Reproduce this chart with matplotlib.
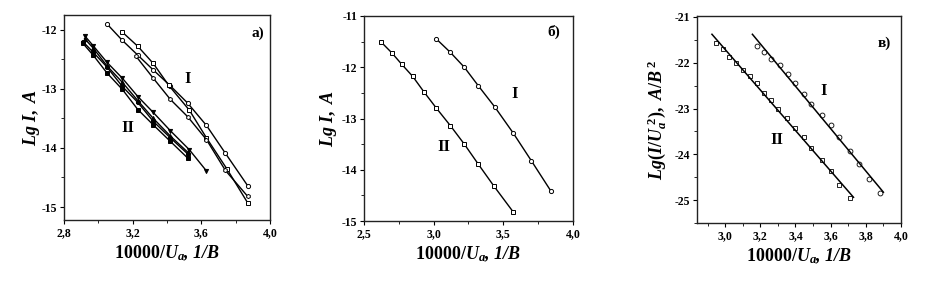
import numpy as np
import matplotlib
matplotlib.use('Agg')
import matplotlib.pyplot as plt
from matplotlib.ticker import MultipleLocator, FuncFormatter

plt.rcParams['font.family'] = ['Liberation Serif', 'DejaVu Serif']
plt.rcParams['mathtext.fontset'] = 'custom'
plt.rcParams['mathtext.it'] = 'Liberation Serif:italic:bold'
plt.rcParams['mathtext.rm'] = 'Liberation Serif:bold'
plt.rcParams['mathtext.bf'] = 'Liberation Serif:bold'
plt.rcParams['axes.unicode_minus'] = False

# panel a) - group I (open markers)
a1_x = [3.05, 3.14, 3.23, 3.32, 3.42, 3.52, 3.63, 3.74, 3.87]
a1_y = [-11.90, -12.18, -12.43, -12.68, -12.95, -13.24, -13.62, -14.09, -14.64]
a2_x = [3.14, 3.23, 3.32, 3.41, 3.53, 3.63, 3.75, 3.87]
a2_y = [-12.04, -12.28, -12.57, -12.94, -13.36, -13.83, -14.36, -14.93]
a3_x = [3.22, 3.32, 3.42, 3.52, 3.63, 3.74, 3.87]
a3_y = [-12.45, -12.82, -13.18, -13.47, -13.86, -14.38, -14.82]
# panel a) - group II (filled markers)
b1_x = [2.92, 2.97, 3.05, 3.14, 3.23, 3.32, 3.42, 3.53, 3.63]
b1_y = [-12.10, -12.27, -12.55, -12.82, -13.13, -13.40, -13.71, -14.03, -14.39]
b2_x = [2.91, 2.97, 3.05, 3.14, 3.23, 3.32, 3.42, 3.52]
b2_y = [-12.20, -12.38, -12.63, -12.96, -13.23, -13.55, -13.83, -14.10]
b3_x = [2.91, 2.97, 3.05, 3.14, 3.23, 3.32, 3.42, 3.52]
b3_y = [-12.23, -12.43, -12.73, -13.01, -13.35, -13.61, -13.89, -14.17]
b4_x = [2.92, 2.97, 3.05, 3.14, 3.23, 3.32, 3.42, 3.52]
b4_y = [-12.15, -12.31, -12.61, -12.89, -13.20, -13.50, -13.80, -14.07]

# panel б)
c1_x = [3.02, 3.12, 3.22, 3.32, 3.44, 3.57, 3.70, 3.84]
c1_y = [-11.45, -11.71, -12.00, -12.36, -12.78, -13.28, -13.82, -14.41]
c2_x = [2.62, 2.70, 2.77, 2.85, 2.93, 3.02, 3.12, 3.22, 3.32, 3.43, 3.57]
c2_y = [-11.50, -11.72, -11.94, -12.18, -12.48, -12.80, -13.14, -13.50, -13.89, -14.31, -14.82]

# panel в)
d1_x = [3.18, 3.22, 3.26, 3.31, 3.36, 3.40, 3.45, 3.49, 3.55, 3.60, 3.65, 3.71, 3.76, 3.82, 3.88]
d1_y = [-21.63, -21.76, -21.92, -22.06, -22.25, -22.45, -22.68, -22.90, -23.14, -23.36,
        -23.62, -23.93, -24.22, -24.53, -24.84]
d2_x = [2.95, 2.99, 3.02, 3.06, 3.10, 3.14, 3.18, 3.22, 3.26, 3.30, 3.35, 3.40, 3.45,
        3.49, 3.55, 3.60, 3.65, 3.71]
d2_y = [-21.56, -21.70, -21.87, -22.00, -22.16, -22.29, -22.45, -22.67, -22.81, -23.00,
        -23.21, -23.43, -23.63, -23.87, -24.13, -24.37, -24.66, -24.95]

W, H = 940, 284
fig = plt.figure(figsize=(W / 100, H / 100), dpi=100)

comma = FuncFormatter(lambda v, p: ('%.1f' % v).replace('.', ','))
xlab = r'$10000/U_a$' + ', 1/В'


def style(ax, xmaj, ymaj):
    ax.xaxis.set_major_locator(MultipleLocator(xmaj))
    ax.xaxis.set_minor_locator(MultipleLocator(xmaj / 2))
    ax.yaxis.set_major_locator(MultipleLocator(ymaj))
    ax.yaxis.set_minor_locator(MultipleLocator(ymaj / 2))
    ax.xaxis.set_major_formatter(comma)
    ax.tick_params(which='major', length=3, width=0.8, direction='out', pad=2)
    ax.tick_params(which='minor', length=2, width=0.6, direction='out')
    ax.tick_params(top=False, right=False)
    for lb in ax.get_xticklabels() + ax.get_yticklabels():
        lb.set_fontsize(8.5)
        lb.set_fontweight('bold')
    for s in ax.spines.values():
        s.set_linewidth(1.0)
        s.set_color('#222222')
    ax.set_xlabel(xlab, fontsize=13, fontweight='bold', fontstyle='italic', labelpad=3)


mk = dict(markersize=3, linewidth=1.0, color='black', markeredgewidth=0.7)

# ---- a)
ax1 = fig.add_axes([64 / W, 1 - 220 / H, 206 / W, 205 / H])
ax1.plot(a1_x, a1_y, marker='o', mfc='white', **mk)
ax1.plot(a2_x, a2_y, marker='s', mfc='white', **mk)
ax1.plot(a3_x, a3_y, marker='h', mfc='white', **mk)
ax1.plot(b1_x, b1_y, marker='v', mfc='black', **mk)
ax1.plot(b2_x, b2_y, marker='o', mfc='black', **mk)
ax1.plot(b3_x, b3_y, marker='s', mfc='black', **mk)
ax1.plot(b4_x, b4_y, marker='^', mfc='black', **mk)
ax1.set_xlim(2.8, 4.0)
ax1.set_ylim(-15.22, -11.75)
style(ax1, 0.4, 1)
ax1.set_ylabel(r'$Lg\ I,\ A$', fontsize=13, labelpad=0)
ax1.text(0.94, 0.91, 'a)', transform=ax1.transAxes, fontsize=11, fontweight='bold', ha='center', va='center')
ax1.text(0.60, 0.69, 'I', transform=ax1.transAxes, fontsize=12, fontweight='bold', ha='center', va='center')
ax1.text(0.31, 0.45, 'II', transform=ax1.transAxes, fontsize=12, fontweight='bold', ha='center', va='center')

# ---- б)
ax2 = fig.add_axes([364 / W, 1 - 221 / H, 209 / W, 205 / H])
ax2.plot(c1_x, c1_y, marker='o', mfc='white', **mk)
ax2.plot(c2_x, c2_y, marker='s', mfc='white', **mk)
ax2.set_xlim(2.5, 4.0)
ax2.set_ylim(-15, -11)
style(ax2, 0.5, 1)
ax2.set_ylabel(r'$Lg\ I,\ A$', fontsize=13, labelpad=2)
ax2.text(0.91, 0.92, 'б)', transform=ax2.transAxes, fontsize=11, fontweight='bold', ha='center', va='center')
ax2.text(0.72, 0.62, 'I', transform=ax2.transAxes, fontsize=12, fontweight='bold', ha='center', va='center')
ax2.text(0.38, 0.36, 'II', transform=ax2.transAxes, fontsize=12, fontweight='bold', ha='center', va='center')

# ---- в)
ax3 = fig.add_axes([697 / W, 1 - 223 / H, 204 / W, 207 / H])
for xs, ys, m in [(d1_x, d1_y, 'o'), (d2_x, d2_y, 's')]:
    ax3.plot(xs, ys, linestyle='none', marker=m, mfc='white', mec='black',
             markersize=3.5, markeredgewidth=0.6)
    k, b = np.polyfit(xs, ys, 1)
    xf = np.array([xs[0] - 0.025, xs[-1] + 0.02])
    ax3.plot(xf, k * xf + b, color='black', linewidth=1.1)
ax3.set_xlim(2.84, 4.0)
ax3.set_ylim(-25.5, -20.98)
style(ax3, 0.2, 1)
ax3.set_ylabel(r'$Lg(I/U_a^{\ 2}),\ A/B^{\,2}$', fontsize=13, labelpad=4)
ax3.text(0.92, 0.87, 'в)', transform=ax3.transAxes, fontsize=11, fontweight='bold', ha='center', va='center')
ax3.text(0.62, 0.64, 'I', transform=ax3.transAxes, fontsize=12, fontweight='bold', ha='center', va='center')
ax3.text(0.39, 0.40, 'II', transform=ax3.transAxes, fontsize=12, fontweight='bold', ha='center', va='center')

fig.savefig('out.png', dpi=100)
